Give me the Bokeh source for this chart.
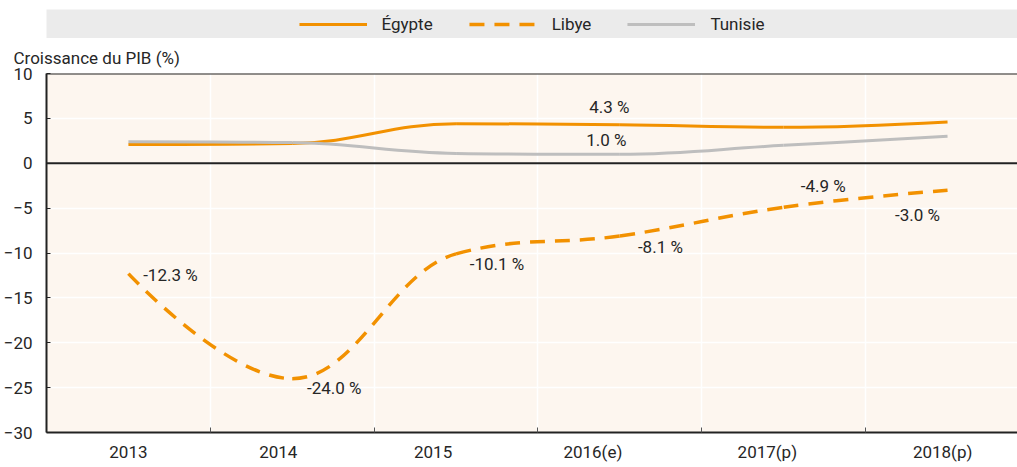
import numpy as np
from bokeh.plotting import figure
from bokeh.models import (FixedTicker, Span, Legend, LegendItem, ColumnDataSource, Title)
from bokeh.layouts import column
from bokeh.core.properties import value
from bokeh.embed import file_html
from bokeh.resources import INLINE

# ---------------- data ----------------
categories = ["2013", "2014", "2015", "2016(e)", "2017(p)", "2018(p)"]
egypte = [2.1, 2.2, 4.4, 4.3, 4.0, 4.6]
libye = [-12.3, -24.0, -10.1, -8.1, -4.9, -3.0]
tunisie = [2.4, 2.3, 1.1, 1.0, 2.0, 3.0]
y_ticks = [-30, -25, -20, -15, -10, -5, 0, 5, 10]
y_title = "Croissance du PIB (%)"

# ---------------- style ----------------
FONT = "Roboto"
TEXT = "#262626"
ORANGE = "#F29100"
GRAY = "#BEBEBE"
BG = "#FDF6EF"
AXIS = "#222222"

# label layout (screen offsets) and category label positions
label_pos = [0.0, 0.915, 1.86, 2.835, 3.90, 4.97]
lab_dx = [42, 42, 41, 40.5, 39.5, -30, -10.5, -13.5]
lab_dy = [1, 9, 10.5, 11.5, -21.5, 24.5, -18, -14.5]


def spline_bezier(xs, ys, smoothing=1.5):
    """Smooth-spline control points (no false extremes), one cubic per interval."""
    xs = [float(v) for v in xs]
    ys = [float(v) for v in ys]
    n = len(xs)
    den = smoothing + 1.0
    lc = [(xs[i], ys[i]) for i in range(n)]
    rc = [(xs[i], ys[i]) for i in range(n)]
    for i in range(1, n - 1):
        px, py = xs[i], ys[i]
        lx, ly = xs[i - 1], ys[i - 1]
        nx, ny = xs[i + 1], ys[i + 1]
        lcx = (smoothing * px + lx) / den
        lcy = (smoothing * py + ly) / den
        rcx = (smoothing * px + nx) / den
        rcy = (smoothing * py + ny) / den
        corr = ((rcy - lcy) * (rcx - px)) / (rcx - lcx) + py - rcy
        lcy += corr
        rcy += corr
        if lcy > ly and lcy > py:
            lcy = max(ly, py); rcy = 2 * py - lcy
        elif lcy < ly and lcy < py:
            lcy = min(ly, py); rcy = 2 * py - lcy
        if rcy > ny and rcy > py:
            rcy = max(ny, py); lcy = 2 * py - rcy
        elif rcy < ny and rcy < py:
            rcy = min(ny, py); lcy = 2 * py - rcy
        lc[i] = (lcx, lcy)
        rc[i] = (rcx, rcy)
    return ColumnDataSource(dict(
        x0=xs[:-1], y0=ys[:-1], x1=xs[1:], y1=ys[1:],
        cx0=[rc[i][0] for i in range(n - 1)], cy0=[rc[i][1] for i in range(n - 1)],
        cx1=[lc[i][0] for i in range(1, n)], cy1=[lc[i][1] for i in range(1, n)]))


xs = list(range(len(categories)))

W = 1017

# ---------------- legend strip ----------------
leg = figure(width=W, height=38, x_axis_type=None, y_axis_type=None,
             toolbar_location=None, output_backend="svg",
             x_range=(100, 101), y_range=(0, 1),
             min_border_left=45, min_border_right=0, min_border_top=9, min_border_bottom=0,
             background_fill_color="#EBEBEB", border_fill_color="white",
             outline_line_color=None)
# legend proxies: series drawn outside the strip's visible range
r_e = leg.line(xs, egypte, line_color=ORANGE, line_width=3)
r_l = leg.line(xs, libye, line_color=ORANGE, line_width=3.5, line_dash="15 10")
r_t = leg.line(xs, tunisie, line_color=GRAY, line_width=3)
legend = Legend(items=[LegendItem(label="Égypte", renderers=[r_e]),
                       LegendItem(label="Libye", renderers=[r_l]),
                       LegendItem(label="Tunisie", renderers=[r_t])],
                orientation="horizontal", location="center",
                background_fill_alpha=0, border_line_alpha=0,
                glyph_width=68, glyph_height=20, label_standoff=15, spacing=36,
                padding=0, margin=0,
                label_text_font=FONT, label_text_font_size="17px", label_text_color=TEXT)
leg.add_layout(legend, "center")

# ---------------- main chart ----------------
p = figure(width=W, height=426, x_range=(-0.5, 5.427), y_range=(-30, 10),
           toolbar_location=None, output_backend="svg",
           min_border_left=45, min_border_right=0, min_border_top=35, min_border_bottom=32,
           background_fill_color=BG, border_fill_color="white", outline_line_color=None)

p.title = Title(text=y_title, align="left", offset=-33, standoff=12,
                text_font=FONT, text_font_size="17px", text_font_style="normal",
                text_color=TEXT)

# y axis
p.yaxis.ticker = FixedTicker(ticks=y_ticks)
p.yaxis.axis_line_color = AXIS
p.yaxis.axis_line_width = 2
p.yaxis.major_tick_in = 4
p.yaxis.major_tick_out = 0
p.yaxis.major_tick_line_color = AXIS
p.yaxis.minor_tick_line_color = None
p.yaxis.major_label_standoff = 14
p.yaxis.major_label_text_font = FONT
p.yaxis.major_label_text_font_size = "17px"
p.yaxis.major_label_text_color = TEXT

# x axis
boundaries = [i + 0.5 for i in range(len(categories) - 1)]
p.xaxis.ticker = FixedTicker(ticks=label_pos, minor_ticks=boundaries)
p.xaxis.major_label_overrides = {pos: cat for pos, cat in zip(label_pos, categories)}
p.xaxis.major_tick_line_color = None
p.xaxis.major_tick_in = 0
p.xaxis.major_tick_out = 0
p.xaxis.minor_tick_line_color = "#555555"
p.xaxis.minor_tick_in = 5
p.xaxis.minor_tick_out = 0
p.xaxis.axis_line_color = AXIS
p.xaxis.axis_line_width = 2
p.xaxis.major_label_standoff = 9
p.xaxis.major_label_text_font = FONT
p.xaxis.major_label_text_font_size = "17px"
p.xaxis.major_label_text_color = TEXT

# grids
p.xgrid.ticker = FixedTicker(ticks=boundaries)
p.xgrid.grid_line_color = "white"
p.xgrid.grid_line_width = 1.5
p.ygrid.grid_line_color = "white"
p.ygrid.grid_line_width = 1.5

# zero and top lines
p.add_layout(Span(location=0, dimension="width", line_color=AXIS, line_width=2))
p.add_layout(Span(location=10, dimension="width", line_color=AXIS, line_width=2))

# series
bz = dict(x0="x0", y0="y0", x1="x1", y1="y1", cx0="cx0", cy0="cy0", cx1="cx1", cy1="cy1")
p.bezier(**bz, source=spline_bezier(xs, egypte), line_color=ORANGE, line_width=3)
p.bezier(**bz, source=spline_bezier(xs, libye), line_color=ORANGE, line_width=3.5,
         line_dash="15 10")
p.bezier(**bz, source=spline_bezier(xs, tunisie), line_color=GRAY, line_width=3)

# value labels
lab_x = xs + [3, 3]
lab_y = libye + [egypte[3], tunisie[3]]
lab_src = ColumnDataSource(dict(
    x=lab_x, y=lab_y, text=[f"{v:.1f} %" for v in lab_y], dx=lab_dx, dy=lab_dy))
p.text(x="x", y="y", text="text", x_offset="dx", y_offset="dy", source=lab_src,
       text_align="center", text_baseline="middle",
       text_font=value(FONT), text_font_size="17px", text_color=TEXT)

layout = column(leg, p)
open("out.html", "w").write(file_html(layout, INLINE))
